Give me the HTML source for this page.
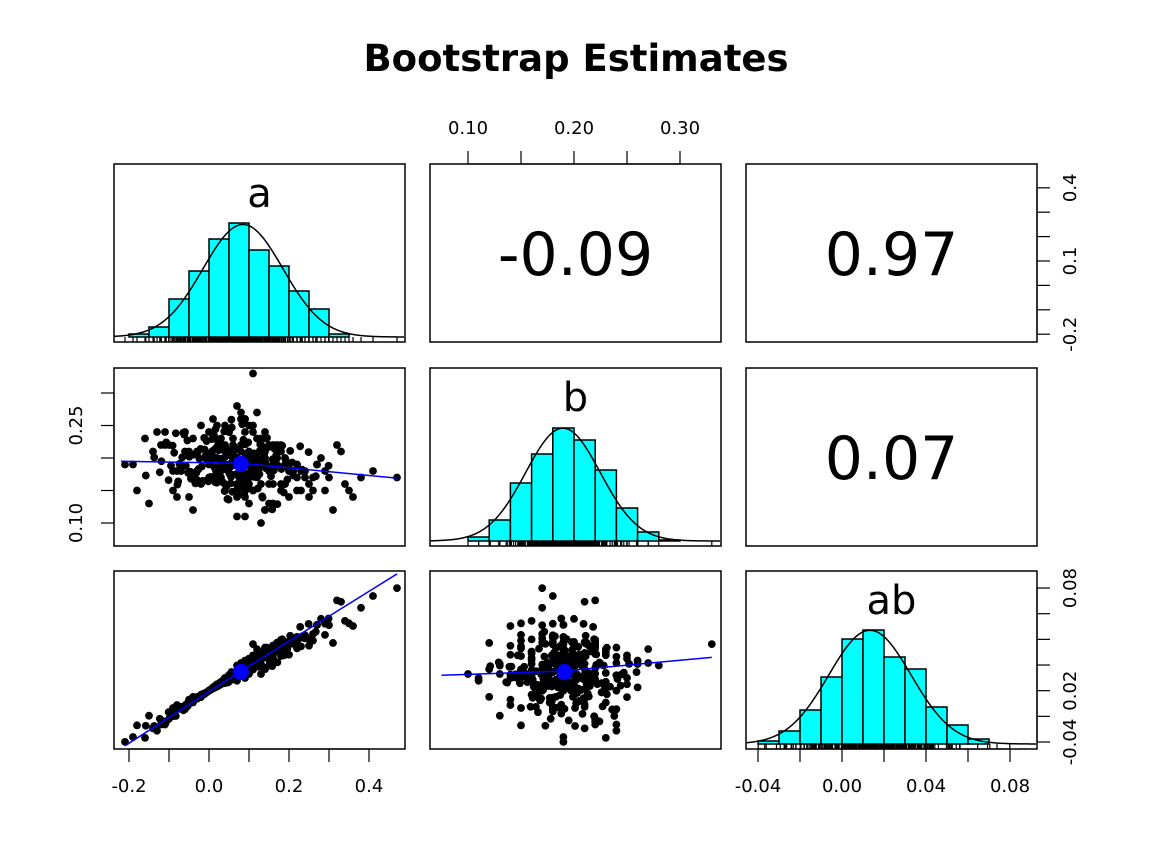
<!DOCTYPE html>
<html><head><meta charset="utf-8"><style>
html,body{margin:0;padding:0;background:#fff;}
svg{display:block;font-family:"DejaVu Sans","Liberation Sans",sans-serif;}
</style></head><body>
<svg id="chart" width="1152" height="864" viewBox="0 0 1152 864">
<text x="576" y="71" text-anchor="middle" font-size="37" font-weight="bold">Bootstrap Estimates</text>
</svg>
<script>
// ---- data ----
const aVals=[0.08,0.15,-0.02,0.21,0.05,0.11,-0.09,0.18,0.03,0.27,
0.12,-0.05,0.09,0.01,0.24,0.14,-0.14,0.07,0.19,0.32,
0.04,0.10,-0.01,0.16,0.22,0.06,-0.07,0.13,0.29,0.00,
0.09,0.17,-0.11,0.02,0.20,0.08,0.25,-0.03,0.12,0.36,
0.06,0.14,-0.19,0.11,0.04,0.23,0.15,-0.06,0.10,0.30,
0.07,-0.04,0.18,0.02,0.13,0.21,-0.12,0.09,0.26,0.05,
0.16,0.01,0.11,-0.08,0.19,0.08,0.34,0.03,0.14,-0.16,
0.12,0.06,0.22,-0.02,0.17,0.10,0.28,0.00,0.07,0.41,
0.13,-0.10,0.05,0.20,0.09,0.15,-0.05,0.24,0.11,-0.21,
0.03,0.18,0.08,0.31,-0.01,0.12,0.06,0.21,-0.13,0.16,
0.10,0.04,0.25,0.14,-0.07,0.09,0.19,0.02,0.27,0.07,
0.13,-0.03,0.17,0.11,0.05,0.38,0.08,-0.15,0.22,0.01,
0.15,0.06,-0.09,0.12,0.23,0.10,0.03,0.18,0.47,0.09,
0.14,-0.06,0.20,0.07,0.33,0.04,0.11,-0.18,0.16,0.08,
0.26,0.02,0.13,-0.04,0.19,0.05,0.10,0.29,-0.11,0.12,
0.07,0.17,0.00,0.22,0.09,-0.08,0.14,0.35,0.06,0.11,
0.063,0.112,-0.021,0.047,0.138,0.081,-0.054,0.029,0.096,0.174,
0.015,0.072,-0.083,0.124,0.058,0.003,0.147,0.091,-0.036,0.208,
0.041,0.086,0.119,-0.012,0.067,0.159,0.024,-0.101,0.105,0.052,
0.077,-0.028,0.133,0.011,0.094,0.186,0.036,-0.067,0.142,0.059,
0.008,0.121,0.083,-0.045,0.166,0.049,0.097,0.018,-0.119,0.228,
0.071,0.032,0.109,-0.006,0.155,0.062,0.088,-0.074,0.127,0.044,
0.196,0.013,0.079,-0.032,0.101,0.054,0.139,-0.091,0.027,0.171,
0.066,0.115,-0.015,0.083,0.038,0.152,0.006,0.094,-0.058,0.249,
0.021,0.128,0.069,-0.041,0.107,0.046,0.181,0.017,-0.137,0.075,
0.132,0.057,-0.002,0.099,0.162,0.034,0.086,-0.079,0.118,0.051,
0.009,0.143,0.073,-0.024,0.211,0.061,0.104,0.028,-0.062,0.137,
0.082,-0.009,0.121,0.043,0.176,0.014,0.092,-0.107,0.064,0.233,
0.039,0.113,-0.047,0.085,0.149,0.022,0.068,-0.018,0.126,0.056,
0.191,0.004,0.098,-0.071,0.134,0.048,0.079,-0.029,0.164,0.031,
0.106,-0.052,0.074,0.145,0.019,0.089,-0.087,0.122,0.058,0.267,
0.035,0.116,0.001,0.093,-0.039,0.158,0.066,0.026,-0.123,0.102,
0.076,0.141,-0.011,0.053,0.187,0.012,0.097,-0.064,0.129,0.045,
0.084,-0.034,0.168,0.061,0.023,0.114,-0.095,0.071,0.203,0.037,
0.125,0.007,0.088,-0.049,0.153,0.069,0.016,-0.158,0.109,0.042,
0.078,0.131,-0.026,0.095,0.055,0.183,0.028,-0.077,0.117,0.299];
const bVals=[0.19,0.22,0.16,0.18,0.24,0.20,0.15,0.21,0.17,0.19,
0.23,0.14,0.20,0.26,0.18,0.12,0.21,0.19,0.16,0.22,
0.25,0.17,0.20,0.13,0.19,0.23,0.18,0.21,0.15,0.24,
0.11,0.20,0.22,0.17,0.19,0.27,0.16,0.21,0.18,0.14,
0.20,0.24,0.19,0.15,0.22,0.18,0.13,0.21,0.25,0.17,
0.19,0.23,0.16,0.20,0.10,0.18,0.22,0.26,0.15,0.21,
0.19,0.17,0.24,0.14,0.20,0.22,0.16,0.19,0.12,0.23,
0.18,0.21,0.15,0.25,0.19,0.13,0.20,0.17,0.28,0.18,
0.16,0.22,0.19,0.14,0.24,0.18,0.21,0.17,0.20,0.19,
0.23,0.15,0.26,0.12,0.20,0.17,0.22,0.18,0.24,0.16,
0.19,0.21,0.14,0.23,0.18,0.20,0.16,0.25,0.19,0.11,
0.22,0.18,0.20,0.15,0.24,0.17,0.21,0.13,0.19,0.23,
0.16,0.20,0.18,0.27,0.15,0.21,0.19,0.22,0.17,0.14,
0.20,0.24,0.18,0.16,0.21,0.19,0.25,0.15,0.22,0.18,
0.17,0.20,0.23,0.12,0.19,0.21,0.16,0.18,0.24,0.20,
0.14,0.22,0.19,0.17,0.26,0.18,0.21,0.15,0.20,0.33,
0.192,0.171,0.214,0.183,0.205,0.158,0.227,0.196,0.176,0.211,
0.163,0.199,0.238,0.181,0.148,0.207,0.186,0.221,0.169,0.193,
0.202,0.154,0.189,0.231,0.175,0.198,0.212,0.166,0.184,0.245,
0.178,0.209,0.141,0.196,0.223,0.187,0.162,0.201,0.216,0.174,
0.204,0.183,0.252,0.168,0.191,0.136,0.208,0.179,0.195,0.218,
0.157,0.199,0.186,0.226,0.172,0.203,0.145,0.191,0.211,0.182,
0.167,0.234,0.194,0.177,0.206,0.161,0.188,0.219,0.173,0.129,
0.213,0.185,0.165,0.197,0.241,0.179,0.203,0.152,0.188,0.209,
0.176,0.221,0.192,0.168,0.198,0.137,0.183,0.215,0.201,0.172,
0.189,0.247,0.164,0.207,0.181,0.195,0.228,0.159,0.193,0.176,
0.211,0.184,0.143,0.199,0.173,0.218,0.187,0.165,0.236,0.194,
0.178,0.203,0.191,0.156,0.212,0.185,0.169,0.224,0.196,0.182,
0.149,0.207,0.179,0.193,0.217,0.163,0.201,0.187,0.175,0.259,
0.198,0.171,0.224,0.185,0.139,0.209,0.192,0.166,0.214,0.181,
0.203,0.177,0.196,0.231,0.162,0.188,0.208,0.153,0.194,0.172,
0.216,0.183,0.197,0.164,0.205,0.121,0.189,0.226,0.178,0.201,
0.169,0.193,0.213,0.186,0.147,0.199,0.174,0.239,0.191,0.208,
0.182,0.161,0.204,0.195,0.222,0.176,0.188,0.151,0.211,0.184,
0.197,0.229,0.168,0.202,0.179,0.193,0.244,0.173,0.186,0.215,
0.157,0.198,0.183,0.207,0.171,0.219,0.192,0.164,0.201,0.188];
const abVals=aVals.map((v,i)=>v*bVals[i]);
// histogram data
const aBreakStart=-0.2, aBinW=0.05;
const aCounts=[3,10,38,66,98,114,87,71,46,28,3];
const bBreakStart=0.10, bBinW=0.02;
const bCounts=[4,21,58,87,113,101,71,33,9,1];
const abBreakStart=-0.04, abBinW=0.01;
const abCounts=[3,13,34,67,105,114,87,75,37,19,5];
const aMean=0.085, aSd=0.1, bMean=0.1896, bSd=0.0352, abMean=0.0133, abSd=0.0196;
// correlations
const corrLabels=["-0.09","0.97","0.07"];
// loess fits
const loessAB_x=[-0.22,0.08,0.47], loessAB_y=[0.195,0.192,0.169];
const loessAab_x=[-0.21,0.08,0.47], loessAab_y=[-0.043,0.0153,0.091];
const loessBab_x=[0.075,0.19,0.33], loessBab_y=[0.012,0.0153,0.026];
// ticks
const aTicks=[-0.2,-0.1,0.0,0.1,0.2,0.3,0.4], aTickLabels=["-0.2","","0.0","","0.2","","0.4"];
const bTopTicks=[0.10,0.15,0.20,0.25,0.30], bTopLabels=["0.10","","0.20","","0.30"];
const bLeftTicks=[0.10,0.15,0.20,0.25,0.30], bLeftLabels=["0.10","","","0.25",""];
const abTicks=[-0.04,-0.02,0.00,0.02,0.04,0.06,0.08], abBottomLabels=["-0.04","","0.00","","0.04","","0.08"];
const abRightLabels=["-0.04","","0.02","","","","0.08"];
const aRightTicks=[-0.2,-0.1,0.0,0.1,0.2,0.3,0.4], aRightLabels=["-0.2","","","0.1","","","0.4"];

// ---- scales ----
const xa=v=>209+400*v, xb=v=>468+1060*(v-0.1), xab=v=>842+2100*v;
const ya=v=>261-244*(v-0.1), yb=v=>523-650*(v-0.1), yab=v=>742-1283*(v+0.04);
const colX=[114,430,746], rowY=[164,368,571], PW=291, PH=178;
const svg=document.getElementById('chart');
const NS='http://www.w3.org/2000/svg';
function mk(tag,attrs,parent){const e=document.createElementNS(NS,tag);for(const k in attrs)e.setAttribute(k,attrs[k]);(parent||svg).appendChild(e);return e;}
function panelClip(id,c,r){const cp=mk('clipPath',{id:id});mk('rect',{x:colX[c],y:rowY[r],width:PW,height:PH},cp);}
function panelGroup(name,c,r){const id='clip-'+name;panelClip(id,c,r);const g=mk('g',{'clip-path':'url(#'+id+')'});


return g;}
function frame(name,c,r){const f=mk('rect',{x:colX[c],y:rowY[r],width:PW,height:PH,fill:'none',stroke:'#000','stroke-width':1.5});

}

function hist(name,c,r,xs,start,bw,counts,mean,sd,vals,label){
  const g=panelGroup(name,c,r);
  const base=rowY[r]+PH-5;
  counts.forEach((n,i)=>{const x0=xs(start+i*bw),x1=xs(start+(i+1)*bw);
    const rc=mk('rect',{x:x0,y:base-n,width:x1-x0,height:n,fill:'#00FFFF',stroke:'#000','stroke-width':1.5},g);
    
    });
  const N=counts.reduce((s,v)=>s+v,0);
  let d='';for(let px=colX[c];px<=colX[c]+PW;px+=2){
    const v=start+(px-xs(start))/(xs(start+1)-xs(start));
    const y=base-N*bw*Math.exp(-0.5*((v-mean)/sd)**2)/(sd*2.5066);
    d+=(d?'L':'M')+px+' '+y.toFixed(2);}
  const p=mk('path',{d:d,fill:'none',stroke:'#000','stroke-width':1.5},g);
  
  
  vals.forEach(v=>{const l=mk('line',{x1:xs(v),x2:xs(v),y1:base,y2:base+5,stroke:'#000','stroke-width':1.2},g);
    
    });
  const t=mk('text',{x:colX[c]+PW/2,y:rowY[r]+43,'text-anchor':'middle','font-size':40},g);t.textContent=label;
  
  
  frame(name,c,r);
}
function scatter(name,c,r,xs,ys,xv,yv,lx,ly){
  const g=panelGroup(name,c,r);
  xv.forEach((v,i)=>{const pt=mk('circle',{cx:xs(v),cy:ys(yv[i]),r:3.9,fill:'#000'},g);
    
    });
  let d='';lx.forEach((v,i)=>{d+=(i?'L':'M')+xs(v)+' '+ys(ly[i]);});
  const ln=mk('path',{d:d,fill:'none',stroke:'#0000FF','stroke-width':1.5},g);
  
  
  const mx=xv.reduce((s,v)=>s+v,0)/xv.length,my=yv.reduce((s,v)=>s+v,0)/yv.length;
  const m=mk('circle',{cx:xs(mx),cy:ys(my),r:8,fill:'#0000FF'},g);
  
  
  frame(name,c,r);
}
function corr(name,c,r,label){
  const t=mk('text',{x:colX[c]+PW/2,y:rowY[r]+PH/2+22,'text-anchor':'middle','font-size':60});t.textContent=label;
  
  
  frame(name,c,r);
}
function axis(name,side,pos,ticks,labels,scale){
  const g=mk('g',{});
  
  
  const s=ticks.map(scale);
  if(side==='bottom'||side==='top'){
    const dir=side==='bottom'?1:-1;
    mk('line',{x1:s[0],x2:s[s.length-1],y1:pos,y2:pos,stroke:'#000','stroke-width':1.2},g);
    s.forEach((x,i)=>{mk('line',{x1:x,x2:x,y1:pos,y2:pos+13*dir,stroke:'#000','stroke-width':1.2},g);
      if(labels[i]){const t=mk('text',{x:x,y:side==='bottom'?pos+43:pos-30,'text-anchor':'middle','font-size':18},g);t.textContent=labels[i];}});
  } else {
    const dir=side==='right'?1:-1;
    mk('line',{x1:pos,x2:pos,y1:s[0],y2:s[s.length-1],stroke:'#000','stroke-width':1.2},g);
    s.forEach((y,i)=>{mk('line',{x1:pos,x2:pos+13*dir,y1:y,y2:y,stroke:'#000','stroke-width':1.2},g);
      if(labels[i]){const tx=side==='right'?pos+34:pos-37;
        const t=mk('text',{x:tx,y:y,'text-anchor':'middle','font-size':18,transform:'rotate(-90 '+tx+' '+y+')','dominant-baseline':'middle'},g);t.textContent=labels[i];}});
  }
}
hist('hist-a',0,0,xa,aBreakStart,aBinW,aCounts,aMean,aSd,aVals,'a');
hist('hist-b',1,1,xb,bBreakStart,bBinW,bCounts,bMean,bSd,bVals,'b');
hist('hist-ab',2,2,xab,abBreakStart,abBinW,abCounts,abMean,abSd,abVals,'ab');
scatter('scatter-a-b',0,1,xa,yb,aVals,bVals,loessAB_x,loessAB_y);
scatter('scatter-a-ab',0,2,xa,yab,aVals,abVals,loessAab_x,loessAab_y);
scatter('scatter-b-ab',1,2,xb,yab,bVals,abVals,loessBab_x,loessBab_y);
corr('corr-a-b',1,0,corrLabels[0]);
corr('corr-a-ab',2,0,corrLabels[1]);
corr('corr-b-ab',2,1,corrLabels[2]);
axis('x-axis-a','bottom',749,aTicks,aTickLabels,xa);
axis('x-axis-ab','bottom',749,abTicks,abBottomLabels,xab);
axis('x-axis-b-top','top',164,bTopTicks,bTopLabels,xb);
axis('y-axis-b-left','left',114,bLeftTicks,bLeftLabels,yb);
axis('y-axis-a-right','right',1037,aRightTicks,aRightLabels,ya);
axis('y-axis-ab-right','right',1037,abTicks,abRightLabels,yab);
</script>
</body></html>
